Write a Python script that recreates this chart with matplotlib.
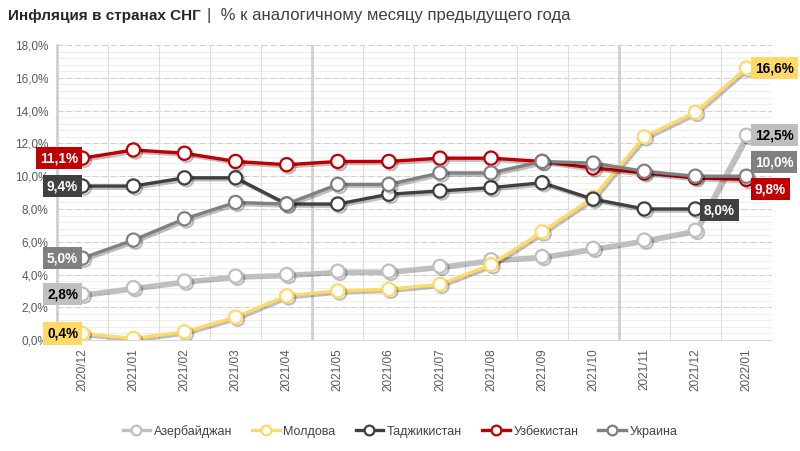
import matplotlib
matplotlib.use("Agg")
import matplotlib.pyplot as plt
import matplotlib.patheffects as pe
from matplotlib.lines import Line2D

plt.rcParams['font.family'] = ['Liberation Sans', 'DejaVu Sans']

# data
months = ['2020/12', '2021/01', '2021/02', '2021/03', '2021/04', '2021/05', '2021/06',
          '2021/07', '2021/08', '2021/09', '2021/10', '2021/11', '2021/12', '2022/01']
azerbaijan = [2.8, 3.2, 3.6, 3.9, 4.0, 4.2, 4.2, 4.5, 4.9, 5.1, 5.6, 6.1, 6.7, 12.5]
moldova = [0.4, 0.1, 0.5, 1.4, 2.7, 3.0, 3.1, 3.4, 4.6, 6.6, 8.7, 12.4, 13.9, 16.6]
tajikistan = [9.4, 9.4, 9.9, 9.9, 8.3, 8.3, 8.9, 9.1, 9.3, 9.6, 8.6, 8.0, 8.0, None]
uzbekistan = [11.1, 11.6, 11.4, 10.9, 10.7, 10.9, 10.9, 11.1, 11.1, 10.9, 10.5, 10.2, 9.9, 9.8]
ukraine = [5.0, 6.1, 7.4, 8.4, 8.3, 9.5, 9.5, 10.2, 10.2, 10.9, 10.8, 10.3, 10.0, 10.0]

names = ['Азербайджан', 'Молдова', 'Таджикистан', 'Узбекистан', 'Украина']
colors = ['#BFBFBF', '#FFD966', '#404040', '#C00000', '#808080']
series = [azerbaijan, moldova, tajikistan, uzbekistan, ukraine]
label_text_col = ['black', 'black', 'white', 'white', 'white']

fig = plt.figure(figsize=(8, 4.51), dpi=100)
ax = fig.add_axes([0.071, 0.246, 0.894, 0.654])

x = list(range(len(months)))
ax.set_xlim(-0.5, len(months) - 0.5)
ax.set_ylim(0, 18)

# grid
for v in [i * 0.4 for i in range(1, 45)]:
    ax.axhline(v, color='#EEEEEE', lw=0.8, zorder=0)
for v in range(2, 19, 2):
    ax.axhline(v, color='#D0D0D0', lw=0.8, ls=(0, (5, 3)), zorder=0.5)
for i in range(len(months)):
    b = i + 0.5
    thick = b in (4.5, 10.5)
    ax.axvline(b, color='#D0D0D0' if thick else '#DDDDDD', lw=2.0 if thick else 0.8, zorder=0.6)

for s in ['top', 'right']:
    ax.spines[s].set_visible(False)
ax.spines['left'].set_color('#D0D0D0')
ax.spines['left'].set_linewidth(2.0)
ax.spines['bottom'].set_color('#D9D9D9')
ax.spines['bottom'].set_linewidth(0.8)

shadow = [pe.SimpleLineShadow(offset=(1.5, -1.5), alpha=0.25, shadow_color='black'), pe.Normal()]

for vals, col in zip(series, colors):
    xs = [i for i, v in zip(x, vals) if v is not None]
    ys = [v for v in vals if v is not None]
    ax.plot(xs, ys, color=col, lw=2.4, marker='o', ms=9.5, mfc='white', mec=col, mew=1.6,
            zorder=3, path_effects=shadow)


def fmt(v):
    return f'{v:.1f}%'.replace('.', ',')


def tag(xi, v, col, tcol, dx, dy, ha):
    ax.annotate(fmt(v), (xi, v), xytext=(dx, dy), textcoords='offset points',
                ha=ha, va='center', fontsize=9.8, fontweight='bold', color=tcol, zorder=5,
                bbox=dict(boxstyle='square,pad=0.3', fc=col, ec='none'))


# left labels
for vals, col, tcol in zip(series, colors, label_text_col):
    tag(0, vals[0], col, tcol, -3, 0, 'right')

# right labels
tag(13, moldova[13], colors[1], 'black', 6, 0, 'left')
tag(13, azerbaijan[13], colors[0], 'black', 6, 0, 'left')
tag(13, ukraine[13], colors[4], 'white', 6, 10, 'left')
tag(13, uzbekistan[13], colors[3], 'white', 6, -7, 'left')
tag(12, tajikistan[12], colors[2], 'white', 6, -1, 'left')

ax.set_xticks(x)
ax.set_xticklabels(months, rotation=90, fontsize=8.5, color='#595959')
ax.set_yticks(range(0, 19, 2))
ax.set_yticklabels([fmt(float(v)) for v in range(0, 19, 2)], fontsize=8.5, color='#595959')
ax.tick_params(axis='both', length=0, pad=6)

t1 = fig.text(0.01, 0.965, 'Инфляция в странах СНГ', fontsize=11, fontweight='bold',
              color='#262626', va='center')
fig.canvas.draw()
bb = t1.get_window_extent()
fig.text(bb.x1 / fig.bbox.width + 0.008, 0.965, '|  % к аналогичному месяцу предыдущего года',
         fontsize=12, color='#404040', va='center')

handles = [Line2D([0], [0], color=c, lw=2.4, marker='o', ms=7, mfc='white', mec=c, mew=1.6)
           for c in colors]
fig.legend(handles, names, loc='center', bbox_to_anchor=(0.5, 0.044), ncol=5, frameon=False,
           fontsize=9, handlelength=2.2, handletextpad=0.3, columnspacing=1.6,
           labelcolor='#404040')

fig.savefig('out.png', dpi=100)
